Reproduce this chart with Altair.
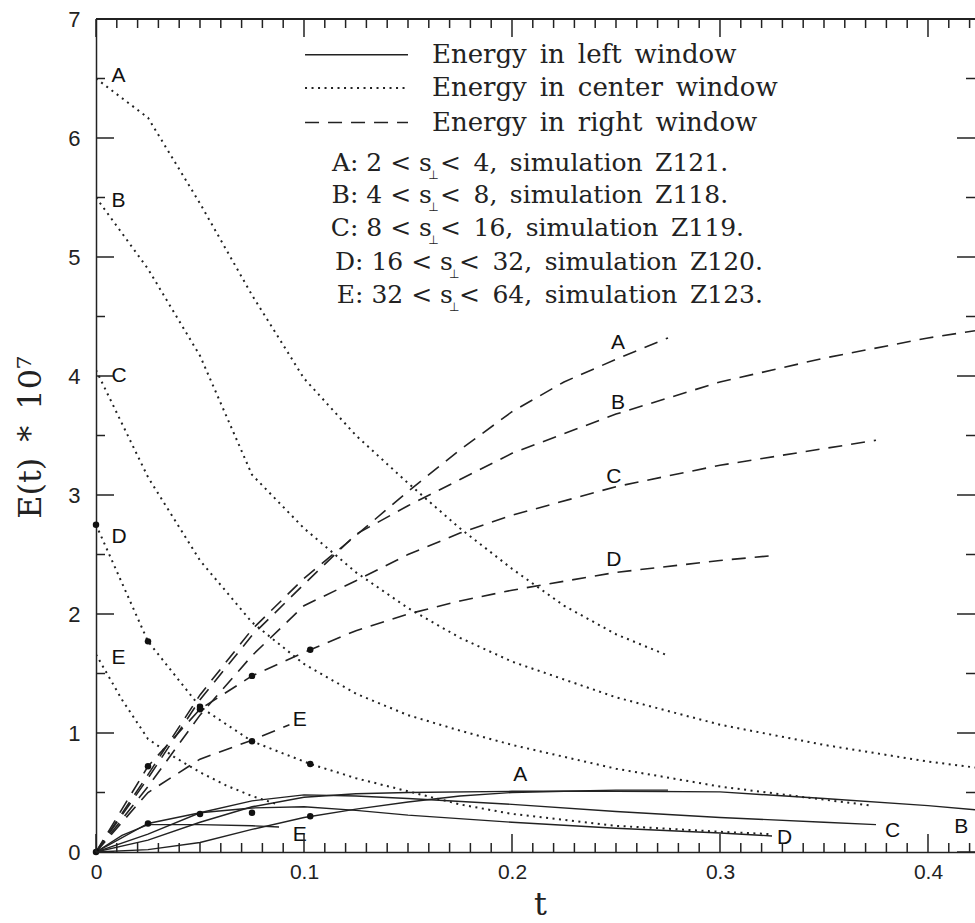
import altair as alt
import pandas as pd

INK = "#222222"
EN = "\u2002"  # en space: the typeset captions use wide word gaps

# ---------------- energy in the left window (solid) ----------------
t_left_A = [0, 0.025, 0.05, 0.075, 0.1, 0.125, 0.15, 0.175, 0.2, 0.225, 0.25, 0.275]
e_left_A = [0, 0.02, 0.08, 0.19, 0.29, 0.36, 0.42, 0.47, 0.50, 0.51, 0.52, 0.52]
t_left_B = [0, 0.025, 0.05, 0.075, 0.1, 0.125, 0.15, 0.2, 0.25, 0.3, 0.35, 0.4, 0.4226]
e_left_B = [0, 0.10, 0.25, 0.38, 0.46, 0.49, 0.50, 0.51, 0.51, 0.505, 0.45, 0.39, 0.355]
t_left_C = [0, 0.025, 0.05, 0.075, 0.1, 0.125, 0.15, 0.2, 0.25, 0.3, 0.35, 0.375]
e_left_C = [0, 0.15, 0.33, 0.43, 0.48, 0.47, 0.45, 0.40, 0.34, 0.29, 0.25, 0.23]
t_left_D = [0, 0.025, 0.05, 0.075, 0.1, 0.125, 0.15, 0.2, 0.25, 0.3, 0.325]
e_left_D = [0, 0.24, 0.33, 0.37, 0.38, 0.35, 0.31, 0.25, 0.20, 0.16, 0.135]
t_left_E = [0, 0.0125, 0.025, 0.05, 0.075, 0.088]
e_left_E = [0, 0.14, 0.23, 0.23, 0.22, 0.21]

# ---------------- energy in the center window (dotted) ----------------
t_center_A = [0, 0.025, 0.05, 0.075, 0.1, 0.125, 0.15, 0.175, 0.2, 0.225, 0.25, 0.275]
e_center_A = [6.5, 6.17, 5.45, 4.68, 3.98, 3.5, 3.1, 2.72, 2.38, 2.07, 1.83, 1.65]
t_center_B = [0, 0.025, 0.05, 0.075, 0.1, 0.125, 0.15, 0.175, 0.2, 0.25, 0.3, 0.35, 0.4, 0.4226]
e_center_B = [5.5, 4.9, 4.17, 3.17, 2.72, 2.35, 2.05, 1.8, 1.6, 1.3, 1.07, 0.9, 0.76, 0.71]
t_center_C = [0, 0.025, 0.05, 0.075, 0.1, 0.125, 0.15, 0.175, 0.2, 0.25, 0.3, 0.35, 0.373]
e_center_C = [4.05, 3.15, 2.45, 1.93, 1.58, 1.33, 1.15, 1.02, 0.9, 0.7, 0.55, 0.44, 0.39]
t_center_D = [0, 0.025, 0.05, 0.075, 0.103, 0.125, 0.15, 0.175, 0.2, 0.25, 0.3, 0.325]
e_center_D = [2.75, 1.77, 1.22, 0.93, 0.74, 0.62, 0.51, 0.40, 0.32, 0.22, 0.17, 0.15]
t_center_E = [0, 0.0125, 0.025, 0.0375, 0.05, 0.0625, 0.075, 0.0875]
e_center_E = [1.66, 1.28, 0.95, 0.80, 0.67, 0.56, 0.47, 0.40]

# ---------------- energy in the right window (dashed) ----------------
t_right_A = [0, 0.025, 0.05, 0.075, 0.1, 0.125, 0.15, 0.175, 0.2, 0.225, 0.25, 0.275]
e_right_A = [0, 0.65, 1.32, 1.87, 2.3, 2.66, 3.03, 3.38, 3.7, 3.95, 4.14, 4.32]
t_right_B = [0, 0.025, 0.05, 0.075, 0.1, 0.125, 0.15, 0.175, 0.2, 0.25, 0.3, 0.35, 0.4, 0.4226]
e_right_B = [0, 0.62, 1.28, 1.82, 2.25, 2.67, 2.91, 3.13, 3.35, 3.68, 3.95, 4.15, 4.32, 4.38]
t_right_C = [0, 0.025, 0.05, 0.075, 0.1, 0.125, 0.15, 0.175, 0.2, 0.25, 0.3, 0.35, 0.375]
e_right_C = [0, 0.55, 1.15, 1.65, 2.07, 2.28, 2.5, 2.68, 2.83, 3.07, 3.25, 3.39, 3.46]
t_right_D = [0, 0.025, 0.05, 0.075, 0.103, 0.125, 0.15, 0.175, 0.2, 0.25, 0.3, 0.325]
e_right_D = [0, 0.72, 1.2, 1.48, 1.70, 1.86, 2.0, 2.11, 2.2, 2.35, 2.45, 2.49]
t_right_E = [0, 0.025, 0.05, 0.075, 0.093]
e_right_E = [0, 0.5, 0.78, 0.94, 1.07]

# sampled output times marked with dots
dot_t = [0, 0.025, 0.05, 0.075, 0.103, 0.025, 0.05, 0.075, 0.103, 0.025, 0.05, 0.075, 0.103, 0]
dot_e = [2.75, 1.77, 1.22, 0.93, 0.74, 0.72, 1.2, 1.48, 1.70, 0.24, 0.32, 0.33, 0.30, 0]

# curve letters
letters = ["A", "B", "C", "D", "E"]
lab_left_t = [0.0075] * 5
lab_left_e = [6.52, 5.47, 4.0, 2.65, 1.63]
lab_right_t = [0.251, 0.251, 0.249, 0.249, 0.098]
lab_right_e = [4.28, 3.77, 3.15, 2.45, 1.11]
lab_low_t = [0.204, 0.416, 0.383, 0.331, 0.098]
lab_low_e = [0.65, 0.21, 0.18, 0.12, 0.14]

# key
key_text = ["Energy in left window", "Energy in center window", "Energy in right window"]
key_e = [6.70, 6.42, 6.13]
key_line_t = [0.1005, 0.15]
key_text_t = 0.1615
sim_prefix = ["A: 2 < s", "B: 4 < s", "C: 8 < s", "D: 16 < s", "E: 32 < s"]
sim_suffix = ["< 4, simulation Z121.", "< 8, simulation Z118.", "< 16, simulation Z119.",
              "< 32, simulation Z120.", "< 64, simulation Z123."]
sim_e = [5.79, 5.52, 5.24, 4.96, 4.68]
sim_s_end = [0.1615, 0.1615, 0.1615, 0.1716, 0.1716]
sim_perp_t = [0.1622, 0.1622, 0.1622, 0.1722, 0.1722]
sim_suffix_t = [0.1654, 0.1654, 0.1654, 0.1745, 0.1745]

# tick positions
x_major = [0, 0.1, 0.2, 0.3, 0.4]
x_minor = [round(i * 0.01, 2) for i in range(1, 43) if i % 10]
y_major = [0, 1, 2, 3, 4, 5, 6, 7]
y_minor = [0.5, 1.5, 2.5, 3.5, 4.5, 5.5, 6.5]

W, H = 879, 833
x_scale = alt.Scale(domain=[0, 0.4226], nice=False, zero=False)
y_scale = alt.Scale(domain=[0, 7], nice=False, zero=False)


def curves(sets):
    rows = []
    for sim, ts, es in sets:
        for t, e in zip(ts, es):
            rows.append({"t": t, "E": e, "sim": sim})
    return pd.DataFrame(rows)


def wide(s):
    return s.replace(" ", EN)


left = curves([("A", t_left_A, e_left_A), ("B", t_left_B, e_left_B), ("C", t_left_C, e_left_C),
               ("D", t_left_D, e_left_D), ("E", t_left_E, e_left_E)])
center = curves([("A", t_center_A, e_center_A), ("B", t_center_B, e_center_B),
                 ("C", t_center_C, e_center_C), ("D", t_center_D, e_center_D),
                 ("E", t_center_E, e_center_E)])
right = curves([("A", t_right_A, e_right_A), ("B", t_right_B, e_right_B), ("C", t_right_C, e_right_C),
                ("D", t_right_D, e_right_D), ("E", t_right_E, e_right_E)])

axis_style = dict(
    ticks=False, grid=False, domain=True, domainColor=INK, domainWidth=1.5,
    labelFont="Liberation Sans", labelColor=INK, labelFlush=False, labelOverlap=False,
    titleFont="DejaVu Serif", titleFontWeight="normal", titleColor=INK,
)
x_axis = alt.Axis(values=x_major, format="~g", title="t", labelFontSize=21, labelPadding=9,
                  titleFontSize=32, titleX=444, titleY=62, titleAlign="center",
                  titleBaseline="alphabetic", **axis_style)
y_axis = alt.Axis(values=y_major, format="d", title=wide("E(t) * 10⁷"), labelFontSize=22,
                  labelPadding=16, titleFontSize=32, titleAngle=270, titleX=-66, titleY=418,
                  titleAlign="center", titleBaseline="middle", **axis_style)


def xq():
    return alt.X("t:Q", scale=x_scale)


def yq():
    return alt.Y("E:Q", scale=y_scale)


solid = alt.Chart(left).mark_line(color=INK, strokeWidth=1.4, clip=True).encode(
    x=alt.X("t:Q", scale=x_scale, axis=x_axis), y=alt.Y("E:Q", scale=y_scale, axis=y_axis),
    detail="sim:N")
dotted = alt.Chart(center).mark_line(color=INK, strokeWidth=2, strokeDash=[2, 4.5], clip=True).encode(
    x=xq(), y=yq(), detail="sim:N")
dashed = alt.Chart(right).mark_line(color=INK, strokeWidth=1.6, strokeDash=[14, 9], clip=True).encode(
    x=xq(), y=yq(), detail="sim:N")

dots = alt.Chart(pd.DataFrame({"t": dot_t, "E": dot_e})).mark_circle(
    size=42, color="#111111", opacity=1).encode(x=xq(), y=yq())

letter_font = dict(font="Liberation Sans", fontSize=21, color="#111111", baseline="middle")
lab_left = alt.Chart(pd.DataFrame({"t": lab_left_t, "E": lab_left_e, "txt": letters})).mark_text(
    align="left", **letter_font).encode(x=xq(), y=yq(), text="txt:N")
lab_right = alt.Chart(pd.DataFrame({"t": lab_right_t, "E": lab_right_e, "txt": letters})).mark_text(
    align="center", **letter_font).encode(x=xq(), y=yq(), text="txt:N")
lab_low = alt.Chart(pd.DataFrame({"t": lab_low_t, "E": lab_low_e, "txt": letters})).mark_text(
    align="center", **letter_font).encode(x=xq(), y=yq(), text="txt:N")

# key: sample strokes and their captions
key_lines = [
    alt.Chart(pd.DataFrame({"t": key_line_t, "E": [key_e[0]] * 2})).mark_line(
        color=INK, strokeWidth=1.5).encode(x=xq(), y=yq()),
    alt.Chart(pd.DataFrame({"t": key_line_t, "E": [key_e[1]] * 2})).mark_line(
        color=INK, strokeWidth=2, strokeDash=[2, 4.5]).encode(x=xq(), y=yq()),
    alt.Chart(pd.DataFrame({"t": key_line_t, "E": [key_e[2]] * 2})).mark_line(
        color=INK, strokeWidth=1.6, strokeDash=[14, 9]).encode(x=xq(), y=yq()),
]

serif = dict(font="DejaVu Serif", fontSize=26, color=INK, baseline="middle")
key_caps = alt.Chart(pd.DataFrame({"t": [key_text_t] * 3, "E": key_e,
                                   "txt": [wide(s) for s in key_text]})).mark_text(
    align="left", **serif).encode(x=xq(), y=yq(), text="txt:N")
serif_small = dict(font="DejaVu Serif", fontSize=25, color=INK, baseline="middle")
sim_pre = alt.Chart(pd.DataFrame({"t": sim_s_end, "E": sim_e, "txt": sim_prefix})).mark_text(
    align="right", **serif_small).encode(x=xq(), y=yq(), text="txt:N")
sim_perp = alt.Chart(pd.DataFrame({"t": sim_perp_t, "E": sim_e, "txt": ["⊥"] * 5})).mark_text(
    align="center", font="DejaVu Sans", fontSize=12, color=INK, baseline="middle", dy=12).encode(
    x=xq(), y=yq(), text="txt:N")
sim_post = alt.Chart(pd.DataFrame({"t": sim_suffix_t, "E": sim_e,
                                   "txt": [wide(s) for s in sim_suffix]})).mark_text(
    align="left", **serif_small).encode(x=xq(), y=yq(), text="txt:N")

# inward ticks on all four sides, plus the top edge of the frame
tick_kw = dict(color=INK, strokeWidth=1.5)
xmaj = pd.DataFrame({"t": x_major})
xmin = pd.DataFrame({"t": x_minor})
ymaj = pd.DataFrame({"E": y_major})
ymin = pd.DataFrame({"E": y_minor})
ticks = [
    alt.Chart(xmaj).mark_rule(**tick_kw).encode(x=xq(), y=alt.value(H), y2=alt.value(H - 18)),
    alt.Chart(xmin).mark_rule(**tick_kw).encode(x=xq(), y=alt.value(H), y2=alt.value(H - 9)),
    alt.Chart(xmaj).mark_rule(**tick_kw).encode(x=xq(), y=alt.value(0), y2=alt.value(18)),
    alt.Chart(xmin).mark_rule(**tick_kw).encode(x=xq(), y=alt.value(0), y2=alt.value(9)),
    alt.Chart(ymaj).mark_rule(**tick_kw).encode(y=yq(), x=alt.value(0), x2=alt.value(18)),
    alt.Chart(ymin).mark_rule(**tick_kw).encode(y=yq(), x=alt.value(0), x2=alt.value(9)),
    alt.Chart(ymaj).mark_rule(**tick_kw).encode(y=yq(), x=alt.value(W - 18), x2=alt.value(W)),
    alt.Chart(ymin).mark_rule(**tick_kw).encode(y=yq(), x=alt.value(W - 9), x2=alt.value(W)),
    alt.Chart(xmaj).mark_rule(color=INK, strokeWidth=1.5).encode(
        x=alt.value(0), x2=alt.value(W), y=alt.value(0)),
]

chart = alt.layer(
    solid, dotted, dashed, dots, lab_left, lab_right, lab_low,
    *key_lines, key_caps, sim_pre, sim_perp, sim_post, *ticks
).properties(
    width=W, height=H,
    padding={"left": 96, "top": 19, "right": 0, "bottom": 70},
    autosize=alt.AutoSizeParams(type="none"),
    background="white",
).configure_view(stroke=None)

chart.save("out.html", embed_options={"renderer": "svg", "actions": False})
